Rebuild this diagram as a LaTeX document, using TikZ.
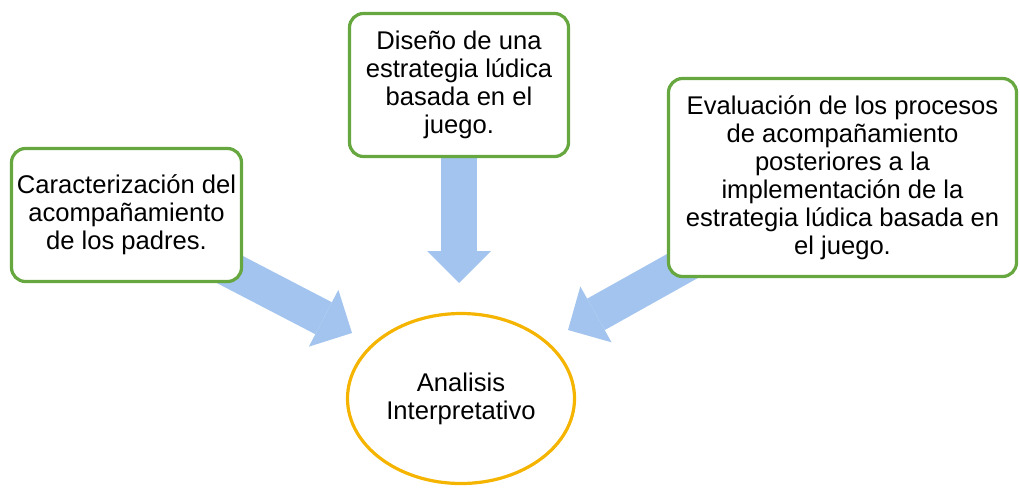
\documentclass[tikz,border=0pt]{standalone}
\usepackage{fontspec}
\setmainfont{Liberation Sans}
\usetikzlibrary{arrows.meta,shapes.geometric}

\begin{document}
\begin{tikzpicture}[x=0.5pt,y=-0.5pt,
  mybox/.style={draw=boxgreen,line width=1.6pt,rounded corners=7pt,fill=white,
    align=center,inner sep=0pt,font=\fontsize{12.8}{14}\selectfont},
  myarrow/.style={draw=arrowblue,line width=18pt,
    -{Triangle[width=32pt,length=16pt,line width=0pt]}}]
\definecolor{boxgreen}{HTML}{66A83F}
\definecolor{arrowblue}{HTML}{A2C4EE}
\definecolor{ringyellow}{HTML}{F4B400}
\useasboundingbox (0,0) rectangle (1020,487);
% arrows first, boxes on top
\coordinate (s1) at (200,254);
\coordinate (t1) at (352,333);
\coordinate (s2) at (459,120);
\coordinate (t2) at (459,283);
\coordinate (s3) at (720,245);
\coordinate (t3) at (568,330);
\foreach \src/\dst in {s1/t1,s2/t2,s3/t3}
  {\draw[myarrow] (\src) -- (\dst);}
\node[mybox,minimum width=115pt,minimum height=66.5pt] (caract) at (126.5,215)
  {Caracterización del\\acompañamiento\\de los padres.};
\node[mybox,minimum width=109.5pt,minimum height=71.5pt] (diseno) at (459,85)
  {Diseño de una\\estrategia lúdica\\basada en el\\juego.};
\node[mybox,minimum width=174pt,minimum height=99pt] (evaluacion) at (842.5,177.5)
  {Evaluación de los procesos\\de acompañamiento\\posteriores a la\\implementación de la\\estrategia lúdica basada en\\el juego.};
\node[ellipse,draw=ringyellow,line width=1.6pt,minimum width=113.5pt,minimum height=85pt,
  inner sep=0pt,align=center,font=\fontsize{12.8}{14}\selectfont] (analisis) at (461,398.5)
  {Analisis\\Interpretativo};
\end{tikzpicture}
\end{document}
